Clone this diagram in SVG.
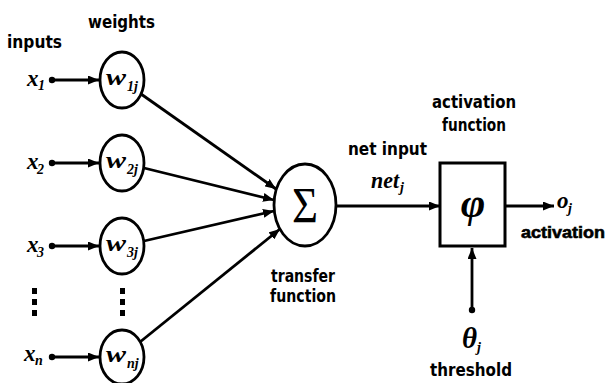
<svg xmlns="http://www.w3.org/2000/svg" width="609" height="383" viewBox="0 0 609 383">
<style>
.lbl{font-family:"DejaVu Sans","Liberation Sans",sans-serif;font-weight:bold;font-size:17px;fill:#000}
.lbl2{font-family:"Liberation Sans",sans-serif;font-weight:bold;font-size:17px;fill:#000;stroke:#000;stroke-width:0.6}
.m{font-family:"Liberation Serif","DejaVu Serif",serif;font-style:italic;font-weight:bold;fill:#000}
.node{fill:#fff;stroke:#000;stroke-width:2.8}
.ln{stroke:#000;stroke-width:2.8;fill:none}
</style>
<defs>
<marker id="arr" markerUnits="userSpaceOnUse" markerWidth="11" markerHeight="9" refX="11" refY="4.5" orient="auto">
<path d="M0,0 L11,4.5 L0,9 z" fill="#000"/>
</marker>
</defs>
<rect width="609" height="383" fill="#fff"/>

<text class="lbl" x="88" y="28" textLength="67" lengthAdjust="spacingAndGlyphs">weights</text>
<text class="lbl" x="7" y="48" textLength="55" lengthAdjust="spacingAndGlyphs">inputs</text>

<g id="connectors">
<line class="ln" x1="52" y1="80" x2="99" y2="80" marker-end="url(#arr)"/>
<line class="ln" x1="52" y1="163" x2="99" y2="163" marker-end="url(#arr)"/>
<line class="ln" x1="52" y1="246" x2="99" y2="246" marker-end="url(#arr)"/>
<line class="ln" x1="52" y1="357" x2="99" y2="357" marker-end="url(#arr)"/>
<line class="ln" x1="141" y1="94" x2="276" y2="189" marker-end="url(#arr)"/>
<line class="ln" x1="144" y1="168" x2="274" y2="200" marker-end="url(#arr)"/>
<line class="ln" x1="144" y1="241" x2="274" y2="211" marker-end="url(#arr)"/>
<line class="ln" x1="140" y1="342" x2="280" y2="229" marker-end="url(#arr)"/>
<line class="ln" x1="336" y1="206" x2="440" y2="206" marker-end="url(#arr)"/>
<line class="ln" x1="505" y1="206" x2="554" y2="206" marker-end="url(#arr)"/>
<line class="ln" x1="472" y1="310" x2="472" y2="248" marker-end="url(#arr)"/>
<circle cx="52" cy="80" r="3.2" fill="#000"/>
<circle cx="52" cy="163" r="3.2" fill="#000"/>
<circle cx="52" cy="246" r="3.2" fill="#000"/>
<circle cx="52" cy="357" r="3.2" fill="#000"/>
<circle cx="472" cy="310" r="3.2" fill="#000"/>
</g>

<g id="x1"><text class="m" x="27" y="86" font-size="23">x</text><text class="m" x="38" y="90" font-size="14">1</text></g>
<g id="x2"><text class="m" x="27" y="169" font-size="23">x</text><text class="m" x="37" y="174" font-size="14">2</text></g>
<g id="x3"><text class="m" x="27" y="252" font-size="23">x</text><text class="m" x="37" y="257" font-size="14">3</text></g>
<g id="xn"><text class="m" x="24" y="361" font-size="23">x</text><text class="m" x="35" y="365" font-size="14">n</text></g>

<g id="vdots-inputs">
<rect x="32" y="288" width="5" height="6"/><rect x="32" y="299" width="5" height="6"/><rect x="32" y="310" width="5" height="6"/>
</g>
<g id="vdots-weights">
<rect x="120" y="288" width="5" height="6"/><rect x="120" y="299" width="5" height="6"/><rect x="120" y="310" width="5" height="6"/>
</g>

<g id="w1j"><ellipse class="node" cx="122" cy="80" rx="22" ry="28"/><text class="m" x="106" y="85" font-size="24" textLength="20" lengthAdjust="spacingAndGlyphs">w</text><text class="m" x="127" y="91" font-size="14">1j</text></g>
<g id="w2j"><ellipse class="node" cx="122" cy="163" rx="22" ry="28"/><text class="m" x="106" y="168" font-size="24" textLength="20" lengthAdjust="spacingAndGlyphs">w</text><text class="m" x="127" y="174" font-size="14">2j</text></g>
<g id="w3j"><ellipse class="node" cx="122" cy="246" rx="22" ry="28"/><text class="m" x="106" y="251" font-size="24" textLength="20" lengthAdjust="spacingAndGlyphs">w</text><text class="m" x="127" y="257" font-size="14">3j</text></g>
<g id="wnj"><ellipse class="node" cx="122" cy="357" rx="22" ry="27"/><text class="m" x="106" y="362" font-size="24" textLength="20" lengthAdjust="spacingAndGlyphs">w</text><text class="m" x="127" y="368" font-size="14">nj</text></g>

<g id="sum">
<ellipse class="node" cx="305" cy="205" rx="31" ry="41"/>
<text x="305" y="222" text-anchor="middle" font-family="Liberation Serif,serif" font-size="50" textLength="26" lengthAdjust="spacingAndGlyphs">Σ</text>
<text class="lbl" x="303" y="282" text-anchor="middle" textLength="64" lengthAdjust="spacingAndGlyphs">transfer</text>
<text class="lbl" x="303" y="302" text-anchor="middle" textLength="66" lengthAdjust="spacingAndGlyphs">function</text>
</g>

<g id="netinput">
<text class="lbl" x="348" y="155" textLength="79" lengthAdjust="spacingAndGlyphs">net input</text>
<text class="m" x="371" y="188" font-size="23" textLength="28" lengthAdjust="spacingAndGlyphs">net</text><text class="m" x="400" y="192" font-size="14">j</text>
</g>

<g id="activation-function">
<text class="lbl" x="474" y="108" text-anchor="middle" textLength="84" lengthAdjust="spacingAndGlyphs">activation</text>
<text class="lbl" x="474" y="131" text-anchor="middle" textLength="64" lengthAdjust="spacingAndGlyphs">function</text>
<rect x="440" y="163" width="65" height="83" fill="#fff" stroke="#000" stroke-width="3"/>
<text class="m" x="473" y="217" text-anchor="middle" font-size="42">φ</text>
</g>

<g id="output">
<text class="m" x="557" y="208" font-size="23">o</text><text class="m" x="568" y="213" font-size="14">j</text>
<text class="lbl2" x="521" y="238" textLength="84" lengthAdjust="spacingAndGlyphs">activation</text>
</g>

<g id="threshold">
<text class="m" x="462" y="348" font-size="29">θ</text><text class="m" x="477" y="352" font-size="14">j</text>
<text class="lbl" x="430" y="376" textLength="82" lengthAdjust="spacingAndGlyphs">threshold</text>
</g>
</svg>
